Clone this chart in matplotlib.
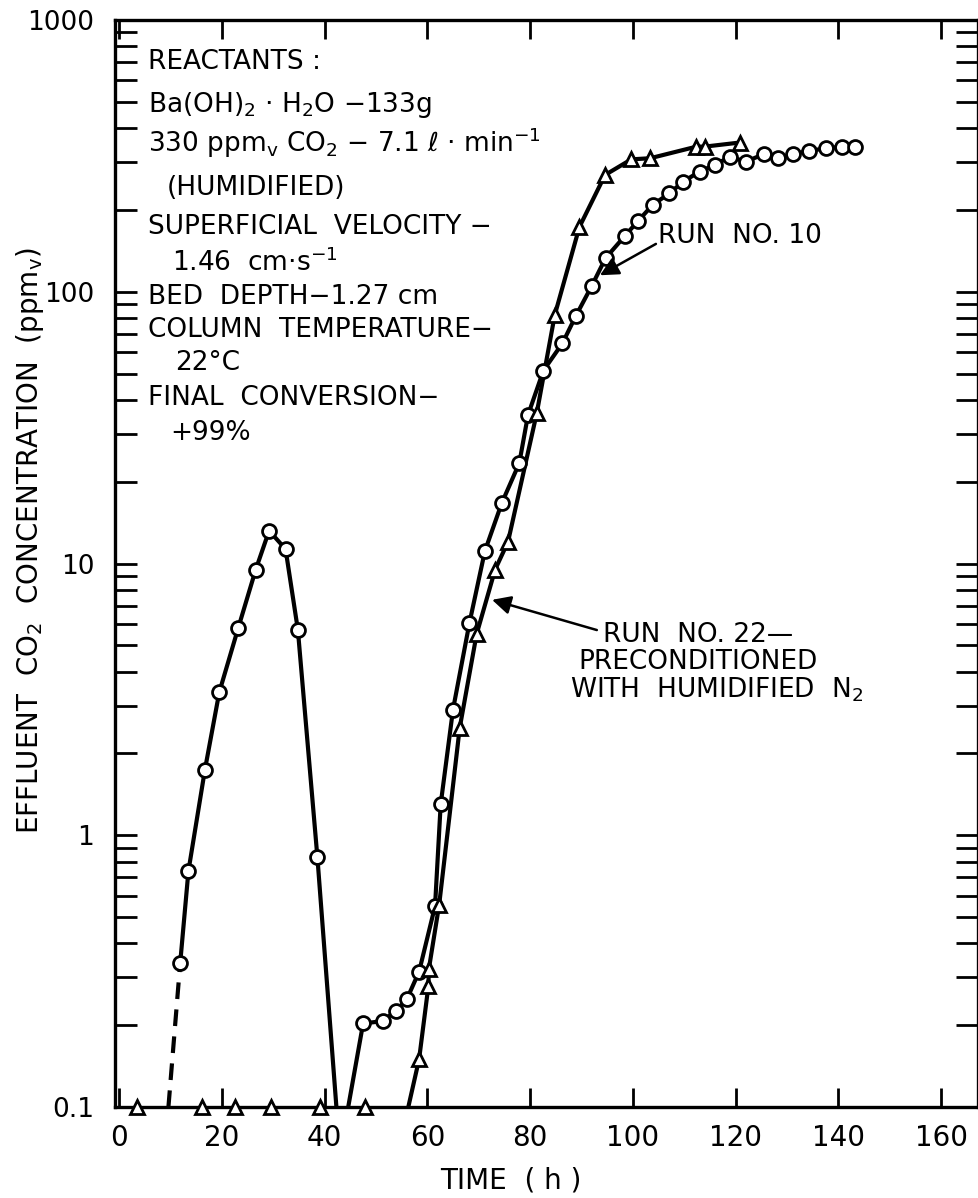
import numpy as np
import matplotlib
matplotlib.use("Agg")
import matplotlib.pyplot as plt
from matplotlib.ticker import FixedLocator, FixedFormatter, LogLocator, NullFormatter

# Run No. 10, first breakthrough hump (circles)
run10_hump_t = [11.9, 13.5, 16.7, 19.5, 23.2, 26.6, 29.2, 32.4, 34.8, 38.6]
run10_hump_c = [0.34, 0.74, 1.74, 3.36, 5.8, 9.5, 13.2, 11.3, 5.7, 0.83]
run10_hump_start = 9.6   # dashed part starts on the 0.1 line
run10_hump_end = 42.3    # falls back to the 0.1 line

# Run No. 10, main breakthrough (circles)
run10_start = 44.6
run10_t = [47.5, 51.3, 53.9, 56.0, 58.4, 61.5, 62.6, 65.0, 68.2, 71.2, 74.5, 77.9,
           79.6, 82.6, 86.3, 88.9, 92.0, 94.7, 98.4, 101.0, 103.9, 107.1, 109.8,
           113.0, 116.0, 118.9, 122.0, 125.5, 128.3, 131.2, 134.3, 137.6, 140.8, 143.2]
run10_c = [0.203, 0.207, 0.226, 0.249, 0.315, 0.548, 1.30, 2.9, 6.04, 11.1, 16.7, 23.4,
           35.2, 51.3, 64.6, 81.4, 105, 133, 160, 182, 209, 230, 254,
           277, 293, 314, 301, 321, 310, 321, 330, 337, 342, 342]

# Run No. 22 (triangles)
run22_base_t = [3.4, 16.1, 22.6, 29.5, 39.2, 47.8]
run22_start = 56.3
run22_t = [58.4, 60.2, 60.3, 62.3, 66.3, 69.6, 73.2, 75.7, 81.3, 84.8, 89.6,
           94.6, 99.7, 103.4, 112.4, 114.0, 120.8]
run22_c = [0.150, 0.278, 0.322, 0.554, 2.48, 5.5, 9.5, 12.0, 35.7, 82, 173,
           269, 307, 310, 342, 342, 354]

ymin = 0.1
xticks = [0, 20, 40, 60, 80, 100, 120, 140, 160]
yticks = [0.1, 1, 10, 100, 1000]
ytick_labels = ["0.1", "1", "10", "100", "1000"]

W, H = 979, 1198


def fpos(px, py):
    return px / W, 1 - py / H


fig = plt.figure(figsize=(W / 100, H / 100), dpi=100)
ax = fig.add_axes([115 / W, 1 - 1107 / H, (978 - 115) / W, (1107 - 20) / H])

lw = 3.0
ms = 10

# run 10 hump
ax.plot([run10_hump_start, run10_hump_t[0]], [ymin, run10_hump_c[0]], color="k",
        lw=lw, ls=(0, (4, 2.5)), zorder=2)
ax.plot(run10_hump_t + [run10_hump_end], run10_hump_c + [ymin], color="k", lw=lw, zorder=2)
ax.plot(run10_hump_t, run10_hump_c, ls="none", marker="o", ms=ms, mfc="white",
        mec="k", mew=2, zorder=3)

# run 10 main
ax.plot([run10_start] + run10_t, [ymin] + run10_c, color="k", lw=lw, zorder=2)
ax.plot(run10_t, run10_c, ls="none", marker="o", ms=ms, mfc="white", mec="k",
        mew=2, zorder=3)

# run 22
ax.plot([run22_start] + run22_t, [ymin] + run22_c, color="k", lw=lw, zorder=2)
ax.plot(run22_t, run22_c, ls="none", marker="^", ms=ms, mfc="white", mec="k",
        mew=2, zorder=4)
ax.plot(run22_base_t, [ymin] * len(run22_base_t), ls="none", marker="^", ms=ms,
        mfc="white", mec="k", mew=2, zorder=4, clip_on=False)

ax.set_yscale("log")
ax.set_xlim(-0.8, 167.2)
ax.set_ylim(0.1, 1000)

ax.xaxis.set_major_locator(FixedLocator(xticks))
ax.yaxis.set_major_locator(FixedLocator(yticks))
ax.yaxis.set_major_formatter(FixedFormatter(ytick_labels))
ax.yaxis.set_minor_locator(LogLocator(base=10, subs=np.arange(2, 10)))
ax.yaxis.set_minor_formatter(NullFormatter())

for s in ax.spines.values():
    s.set_linewidth(2.4)

ax.tick_params(axis="x", which="both", direction="in", top=True, length=14,
               width=2, labelsize=20, pad=12)
ax.tick_params(axis="y", which="both", direction="in", right=True, length=16,
               width=2, labelsize=19, pad=15)

fig.text(*fpos(30, 541), "EFFLUENT  CO$_\\mathregular{2}$  CONCENTRATION  (ppm$_\\mathregular{v}$)",
         rotation=90, ha="center", va="center", fontsize=20)
fig.text(*fpos(511, 1180), "TIME  ( h )", ha="center", va="center", fontsize=20)

# conditions block
block = [
    (148, 62, "REACTANTS :"),
    (148, 105, "Ba(OH)$_\\mathregular{2}$ · H$_\\mathregular{2}$O −133g"),
    (148, 143, "330 ppm$_\\mathregular{v}$ CO$_\\mathregular{2}$ − 7.1 ℓ · min$^\\mathregular{-1}$"),
    (167, 188, "(HUMIDIFIED)"),
    (148, 227, "SUPERFICIAL  VELOCITY −"),
    (172, 263, "1.46  cm·s$^\\mathregular{-1}$"),
    (148, 297, "BED  DEPTH−1.27 cm"),
    (148, 330, "COLUMN  TEMPERATURE−"),
    (175, 363, "22°C"),
    (148, 398, "FINAL  CONVERSION−"),
    (170, 433, "+99%"),
]
for px, py, s in block:
    fig.text(*fpos(px, py), s, ha="left", va="center", fontsize=19)

# annotations
ax.annotate("", xy=(93.6, 115), xytext=(104.5, 150),
            arrowprops=dict(arrowstyle="-|>", color="k", lw=1.8, mutation_scale=28,
                            shrinkA=0, shrinkB=0))
fig.text(*fpos(658, 236), "RUN  NO. 10", ha="left", va="center", fontsize=19)

ax.annotate("", xy=(72.6, 7.35), xytext=(93.0, 5.69),
            arrowprops=dict(arrowstyle="-|>", color="k", lw=1.8, mutation_scale=28,
                            shrinkA=0, shrinkB=0))
fig.text(*fpos(603, 635), "RUN  NO. 22—", ha="left", va="center", fontsize=19)
fig.text(*fpos(578, 662), "PRECONDITIONED", ha="left", va="center", fontsize=19)
fig.text(*fpos(570, 690), "WITH  HUMIDIFIED  N$_\\mathregular{2}$", ha="left", va="center", fontsize=19)

fig.savefig("out.png", dpi=100)
